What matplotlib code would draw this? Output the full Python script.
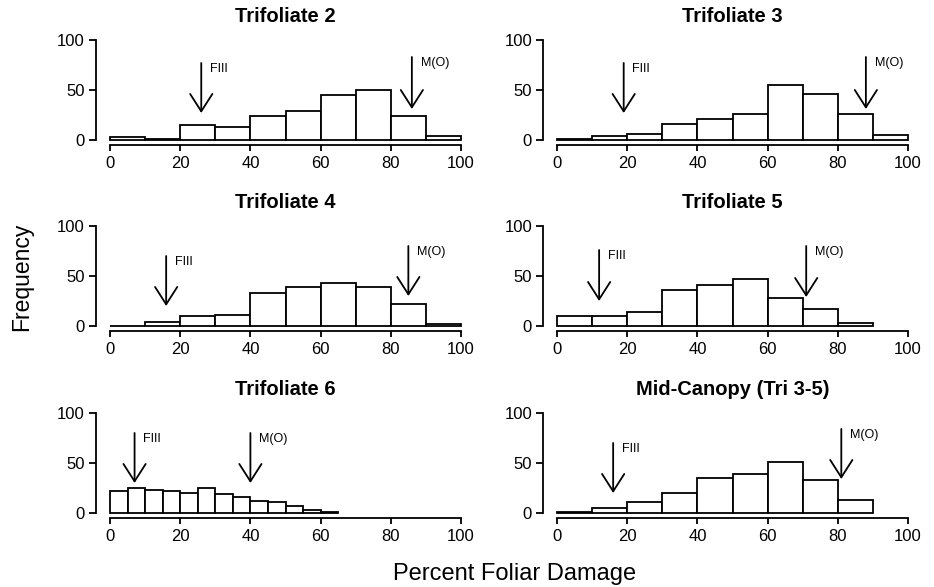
import matplotlib
matplotlib.use('Agg')
import matplotlib.pyplot as plt
import numpy as np

plt.rcParams['font.family'] = ['Liberation Sans', 'DejaVu Sans']

# histogram data
titles = ['Trifoliate 2', 'Trifoliate 3', 'Trifoliate 4', 'Trifoliate 5',
          'Trifoliate 6', 'Mid-Canopy (Tri 3-5)']
edges = [np.arange(0, 101, 10), np.arange(0, 101, 10), np.arange(0, 101, 10),
         np.arange(0, 91, 10), np.arange(0, 66, 5), np.arange(0, 91, 10)]
counts = [
    [3, 1, 15, 13, 24, 29, 45, 50, 24, 4],
    [1, 4, 6, 16, 21, 26, 55, 46, 26, 5],
    [0, 4, 10, 11, 33, 39, 43, 39, 22, 2],
    [10, 10, 14, 36, 41, 47, 28, 17, 3],
    [22, 25, 23, 22, 20, 25, 19, 16, 12, 11, 7, 3, 1],
    [1, 5, 11, 20, 35, 39, 51, 33, 13],
]
# arrow positions (percent damage) for FIII and M(O)
fiii = [26, 19, 16, 12, 7, 16]
mo = [86, 88, 85, 71, 40, 81]
# arrow top / tip heights
fiii_y = [(77, 27), (77, 27), (70, 20), (76, 25), (80, 30), (70, 20)]
mo_y = [(83, 31), (83, 31), (80, 30), (80, 29), (80, 30), (84, 34)]

W, H = 934, 587
fig = plt.figure(figsize=(W / 100, H / 100), dpi=100)

lefts = [110, 557]
zeros = [140, 326, 513]

for i in range(6):
    r, c = divmod(i, 2)
    x0 = lefts[c]
    y0 = zeros[r]
    ax = fig.add_axes([x0 / W, 1 - y0 / H, 351 / W, 100 / H])
    ax.bar(edges[i][:-1], counts[i], width=np.diff(edges[i]), align='edge',
           facecolor='white', edgecolor='black', linewidth=1.3, clip_on=False)
    ax.set_xlim(0, 100)
    ax.set_ylim(0, 100)
    for s in ['top', 'right']:
        ax.spines[s].set_visible(False)
    ax.spines['left'].set_position(('outward', 10))
    ax.spines['bottom'].set_position(('outward', 3.5))
    ax.spines['left'].set_bounds(0, 100)
    ax.spines['bottom'].set_bounds(0, 100)
    for s in ['left', 'bottom']:
        ax.spines[s].set_linewidth(1.3)
    ax.set_xticks([0, 20, 40, 60, 80, 100])
    ax.set_yticks([0, 50, 100])
    ax.tick_params(axis='both', labelsize=12, width=1.3)
    ax.tick_params(axis='y', length=5, pad=3)
    ax.tick_params(axis='x', length=4, pad=4)
    ax.set_title(titles[i], fontsize=14.5, fontweight='bold', pad=13)

    for xv, (top, tip), lab in [(fiii[i], fiii_y[i], 'FIII'), (mo[i], mo_y[i], 'M(O)')]:
        ax.annotate('', xy=(xv, tip), xytext=(xv, top),
                    arrowprops=dict(arrowstyle='->,head_length=1.25,head_width=0.8',
                                    color='black', lw=1.3, shrinkA=0, shrinkB=0))
        ax.text(xv + 2.5, top - 6, lab, fontsize=9, ha='left', va='center')

fig.text(22 / W, 1 - 277 / H, 'Frequency', rotation=90, fontsize=16.5,
         ha='center', va='center')
fig.text(515 / W, 1 - 574 / H, 'Percent Foliar Damage', fontsize=17,
         ha='center', va='center')

fig.savefig('out.png', dpi=100)
